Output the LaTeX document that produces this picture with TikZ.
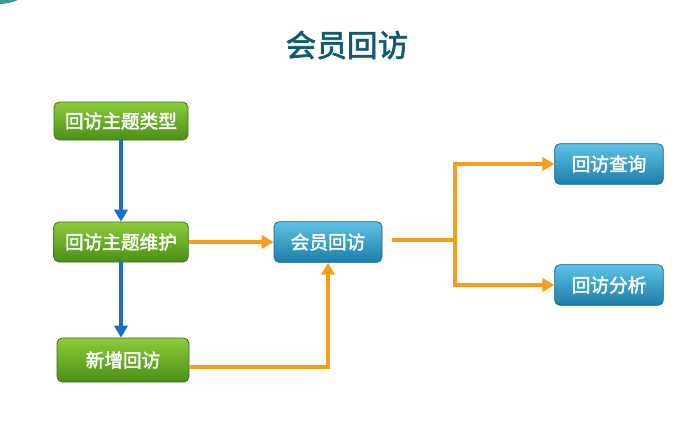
\documentclass[tikz,border=0pt]{standalone}
\usepackage{fontspec}
\setmainfont{Noto Sans CJK SC}
\newfontfamily\cjkb{Noto Sans CJK SC}[FakeBold=2]
\usetikzlibrary{arrows.meta}
\definecolor{gtop}{HTML}{8CCB3C}
\definecolor{gbot}{HTML}{4A9016}
\definecolor{btop}{HTML}{5EC3E6}
\definecolor{bbot}{HTML}{1C7EA8}
\definecolor{orng}{HTML}{F89C1C}
\definecolor{blu}{HTML}{1A6FC4}
\definecolor{ttl}{HTML}{0E5A6E}
\tikzset{
  gbox/.style={rounded corners=4pt, top color=gtop, bottom color=gbot, draw=gbot!80!black, line width=0.6pt, text=white, font=\cjkb\fontsize{14}{15}\selectfont, inner sep=0pt},
  bbox/.style={rounded corners=4pt, top color=btop, bottom color=bbot, draw=bbot!80!black, line width=0.6pt, text=white, font=\cjkb\fontsize{14}{15}\selectfont, inner sep=0pt},
  oarr/.style={orng, line width=2.4pt, -{Triangle[length=9pt,width=10pt]}},
  oline/.style={orng, line width=2.4pt},
  barr/.style={blu, line width=2.4pt, -{Triangle[length=9pt,width=10pt]}}
}
\begin{document}
\begin{tikzpicture}[x=0.75pt,y=-0.75pt]
\useasboundingbox (0,0) rectangle (699,426);
\fill[white] (0,0) rectangle (699,426);
\fill[teal!80] (0,0) -- (18,0) to[bend left=10] (0,4) -- cycle;
\node[text=ttl, font=\cjkb\fontsize{23}{26}\selectfont] (title) at (347,45) {会员回访};
\node[gbox, minimum width=100.5pt, minimum height=28.5pt] (t1) at (121,121) {回访主题类型};
\node[gbox, minimum width=101pt, minimum height=30pt] (t2) at (121,242) {回访主题维护};
\node[gbox, minimum width=99pt, minimum height=33pt] (t3) at (123,360) {新增回访};
\node[bbox, minimum width=81pt, minimum height=30.5pt] (hy) at (328,242) {会员回访};
\node[bbox, minimum width=81.5pt, minimum height=30.5pt] (cx) at (609,164) {回访查询};
\node[bbox, minimum width=81.5pt, minimum height=30.5pt] (fx) at (609,285) {回访分析};
\coordinate (j) at (455,240);
\draw[barr] (t1.south) -- (t2.north);
\draw[barr] (t2.south) -- (t2.south |- t3.north);
\draw[oarr] (t2.east) -- (hy.west);
\draw[oarr] (t3.east |- 0,367) -| (hy.south);
\draw[oline] (hy.east |- j) ++(10,0) -- (j);
\draw[oarr] (j) |- (cx.west);
\draw[oarr] (j) |- (fx.west);
\end{tikzpicture}
\end{document}
